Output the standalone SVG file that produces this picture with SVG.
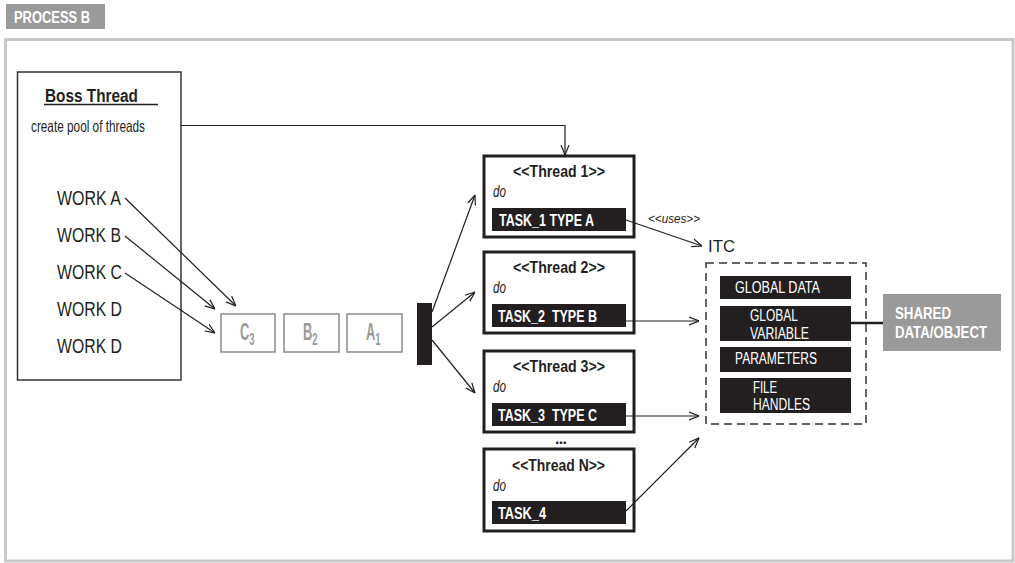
<svg xmlns="http://www.w3.org/2000/svg" width="1015" height="563" viewBox="0 0 1015 563">
<style>
text{font-family:"Liberation Sans",Arial,sans-serif;fill:#231f20}
.b{font-weight:bold}
.i{font-style:italic}
.w{fill:#ffffff}
.work{font-size:19.5px}
.tt{font-size:16.5px;font-weight:bold}
.do{font-size:16px;font-style:italic}
.task{font-size:16px;font-weight:bold;fill:#fff}
.itc{font-size:16px;fill:#fff}
.bar{fill:#231f20}
.tbox{fill:#fff;stroke:#231f20;stroke-width:3}
.q{fill:#fff;stroke:#8a8a8a;stroke-width:1.5}
.qt{font-size:23px;font-weight:bold;fill:#9a9a9a}
.c{fill:none;stroke:#231f20;stroke-width:1.2}
</style>
<defs>
<marker id="ah" viewBox="0 0 10 10" refX="10" refY="5" markerWidth="10" markerHeight="10" orient="auto" markerUnits="userSpaceOnUse">
<path d="M0,1 L10,5 L0,9" fill="none" stroke="#231f20" stroke-width="1.2"/>
</marker>
</defs>
<g id="frame">
<rect x="6" y="4" width="99" height="25" fill="#9a9a9a"/>
<text x="14" y="23" class="b w" style="font-size:16px" textLength="76" lengthAdjust="spacingAndGlyphs">PROCESS B</text>
<rect x="5.5" y="39.5" width="1007.5" height="521.5" fill="none" stroke="#c8c8c8" stroke-width="3"/>
</g>
<g id="boss">
<rect x="17.5" y="72" width="163.5" height="308" fill="#fff" stroke="#333" stroke-width="1.5"/>
<text x="45" y="102" class="b" style="font-size:17.5px" textLength="93" lengthAdjust="spacingAndGlyphs">Boss Thread</text>
<line x1="44" y1="104.5" x2="158" y2="104.5" stroke="#231f20" stroke-width="1.5"/>
<text x="31" y="132" style="font-size:16.5px" textLength="114" lengthAdjust="spacingAndGlyphs">create pool of threads</text>
<text x="57" y="205" class="work" textLength="64" lengthAdjust="spacingAndGlyphs">WORK A</text>
<text x="57" y="242" class="work" textLength="64" lengthAdjust="spacingAndGlyphs">WORK B</text>
<text x="57" y="279" class="work" textLength="65" lengthAdjust="spacingAndGlyphs">WORK C</text>
<text x="57" y="316" class="work" textLength="65" lengthAdjust="spacingAndGlyphs">WORK D</text>
<text x="57" y="353" class="work" textLength="65" lengthAdjust="spacingAndGlyphs">WORK D</text>
</g>
<g id="queue">
<rect x="221" y="314" width="54" height="38" class="q"/>
<text class="qt" transform="translate(240,340) scale(0.56,1)">C<tspan dy="5" style="font-size:17px">3</tspan></text>
<rect x="284" y="314" width="55" height="38" class="q"/>
<text class="qt" transform="translate(303,340) scale(0.56,1)">B<tspan dy="5" style="font-size:17px">2</tspan></text>
<rect x="347" y="314" width="55" height="38" class="q"/>
<text class="qt" transform="translate(366,340) scale(0.56,1)">A<tspan dy="5" style="font-size:17px">1</tspan></text>
</g>
<g id="dispatcher">
<rect x="417" y="303" width="15" height="62" class="bar"/>
</g>
<g id="thread1">
<rect x="484" y="156" width="150" height="81" class="tbox"/>
<text x="513" y="177" class="tt" textLength="92" lengthAdjust="spacingAndGlyphs">&lt;&lt;Thread 1&gt;&gt;</text>
<text x="493" y="197" class="do" textLength="13" lengthAdjust="spacingAndGlyphs">do</text>
<rect x="492" y="208" width="134" height="23" class="bar"/>
<text x="499" y="226" class="task" textLength="95" lengthAdjust="spacingAndGlyphs">TASK_1 TYPE A</text>
</g>
<g id="thread2">
<rect x="484" y="252" width="150" height="81" class="tbox"/>
<text x="513" y="273" class="tt" textLength="92" lengthAdjust="spacingAndGlyphs">&lt;&lt;Thread 2&gt;&gt;</text>
<text x="493" y="293" class="do" textLength="13" lengthAdjust="spacingAndGlyphs">do</text>
<rect x="492" y="304" width="134" height="23" class="bar"/>
<text x="498" y="322" class="task" xml:space="preserve" textLength="99" lengthAdjust="spacingAndGlyphs">TASK_2  TYPE B</text>
</g>
<g id="thread3">
<rect x="484" y="351" width="150" height="81" class="tbox"/>
<text x="513" y="372" class="tt" textLength="92" lengthAdjust="spacingAndGlyphs">&lt;&lt;Thread 3&gt;&gt;</text>
<text x="493" y="392" class="do" textLength="13" lengthAdjust="spacingAndGlyphs">do</text>
<rect x="492" y="403" width="134" height="23" class="bar"/>
<text x="498" y="421" class="task" xml:space="preserve" textLength="99" lengthAdjust="spacingAndGlyphs">TASK_3  TYPE C</text>
</g>
<text x="555" y="444" class="b" style="font-size:16px" textLength="12" lengthAdjust="spacing">...</text>
<g id="threadN">
<rect x="484" y="449" width="150" height="82" class="tbox"/>
<text x="512" y="471" class="tt" textLength="93" lengthAdjust="spacingAndGlyphs">&lt;&lt;Thread N&gt;&gt;</text>
<text x="493" y="491" class="do" textLength="13" lengthAdjust="spacingAndGlyphs">do</text>
<rect x="492" y="501" width="134" height="23" class="bar"/>
<text x="498" y="519" class="task" textLength="48" lengthAdjust="spacingAndGlyphs">TASK_4</text>
</g>
<g id="itc">
<text x="708" y="252" style="font-size:17px" textLength="27" lengthAdjust="spacingAndGlyphs">ITC</text>
<rect x="706" y="263" width="160" height="161" fill="none" stroke="#333" stroke-width="1.5" stroke-dasharray="8,5"/>
<rect x="720" y="276" width="131" height="23" class="bar"/>
<text x="735" y="293" class="itc" textLength="85" lengthAdjust="spacingAndGlyphs">GLOBAL DATA</text>
<rect x="720" y="306" width="131" height="35" class="bar"/>
<text x="750" y="321" class="itc" textLength="48" lengthAdjust="spacingAndGlyphs">GLOBAL</text>
<text x="750" y="339" class="itc" textLength="59" lengthAdjust="spacingAndGlyphs">VARIABLE</text>
<rect x="720" y="347" width="131" height="25" class="bar"/>
<text x="735" y="364" class="itc" textLength="82" lengthAdjust="spacingAndGlyphs">PARAMETERS</text>
<rect x="720" y="378" width="131" height="35" class="bar"/>
<text x="753" y="393" class="itc" textLength="24" lengthAdjust="spacingAndGlyphs">FILE</text>
<text x="753" y="410" class="itc" textLength="57" lengthAdjust="spacingAndGlyphs">HANDLES</text>
</g>
<g id="shared">
<rect x="883" y="294" width="118" height="57" fill="#9a9a9a"/>
<text x="895" y="319" class="b w" style="font-size:16.5px" textLength="56" lengthAdjust="spacingAndGlyphs">SHARED</text>
<text x="895" y="338" class="b w" style="font-size:16.5px" textLength="92" lengthAdjust="spacingAndGlyphs">DATA/OBJECT</text>
</g>
<g id="connectors">
<polyline points="181,125.5 565,125.5 565,155" class="c" marker-end="url(#ah)"/>
<line x1="125" y1="198" x2="236" y2="306" class="c" marker-end="url(#ah)"/>
<line x1="125" y1="236" x2="215" y2="309" class="c" marker-end="url(#ah)"/>
<line x1="125" y1="273" x2="215" y2="333" class="c" marker-end="url(#ah)"/>
<line x1="432" y1="312" x2="475" y2="195" class="c" marker-end="url(#ah)"/>
<line x1="432" y1="327" x2="475" y2="292" class="c" marker-end="url(#ah)"/>
<line x1="432" y1="340" x2="475" y2="393" class="c" marker-end="url(#ah)"/>
<line x1="626" y1="220" x2="702" y2="246" class="c" marker-end="url(#ah)"/>
<text x="648" y="223" class="i" style="font-size:12px" textLength="52" lengthAdjust="spacingAndGlyphs">&lt;&lt;uses&gt;&gt;</text>
<line x1="626" y1="321" x2="699" y2="321" class="c" marker-end="url(#ah)"/>
<line x1="626" y1="416" x2="699" y2="416" class="c" marker-end="url(#ah)"/>
<line x1="626" y1="511" x2="699" y2="438" class="c" marker-end="url(#ah)"/>
<line x1="851" y1="323" x2="883" y2="323" stroke="#231f20" stroke-width="2.5"/>
</g>
</svg>
